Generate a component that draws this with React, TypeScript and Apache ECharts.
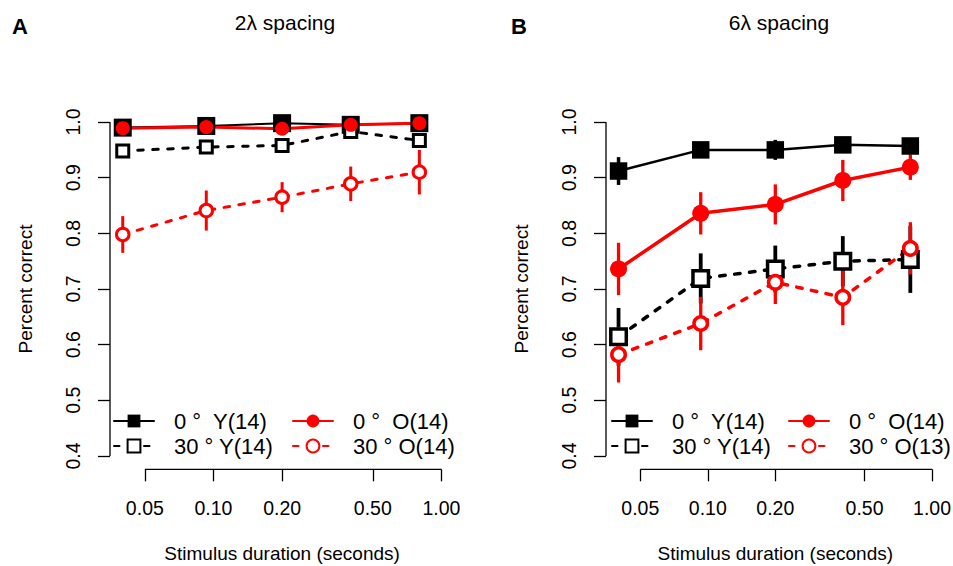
import React, { useEffect, useRef } from 'react';
import * as echarts from 'echarts';

// ---- data ----
const durations = [0.04, 0.093, 0.2, 0.4, 0.8];
const xTickValues = [0.05, 0.1, 0.2, 0.5, 1.0];
const yTickValues = [0.4, 0.5, 0.6, 0.7, 0.8, 0.9, 1.0];

const labelsA = ['0 °  Y(14)', '0 °  O(14)', '30 ° Y(14)', '30 ° O(14)'];
const labelsB = ['0 °  Y(14)', '0 °  O(14)', '30 ° Y(14)', '30 ° O(13)'];

// Panel A: 2λ spacing
const aY0 = [0.990, 0.993, 0.998, 0.995, 0.998];
const aY0Err = [0.005, 0.004, 0.002, 0.003, 0.002];
const aO0 = [0.989, 0.991, 0.988, 0.995, 0.998];
const aO0Err = [0.005, 0.005, 0.006, 0.004, 0.002];
const aY30 = [0.948, 0.955, 0.958, 0.983, 0.967];
const aY30Err = [0.006, 0.007, 0.007, 0.006, 0.008];
const aO30 = [0.798, 0.841, 0.865, 0.889, 0.910];
const aO30Err = [0.033, 0.036, 0.027, 0.031, 0.040];

// Panel B: 6λ spacing
const bY0 = [0.912, 0.950, 0.950, 0.959, 0.957];
const bY0Err = [0.025, 0.012, 0.018, 0.010, 0.008];
const bO0 = [0.736, 0.836, 0.852, 0.895, 0.919];
const bO0Err = [0.047, 0.038, 0.036, 0.037, 0.023];
const bY30 = [0.614, 0.719, 0.736, 0.750, 0.753];
const bY30Err = [0.052, 0.045, 0.042, 0.045, 0.060];
const bO30 = [0.582, 0.638, 0.712, 0.685, 0.773];
const bO30Err = [0.050, 0.048, 0.039, 0.050, 0.047];

const FONT = '"Liberation Sans", Arial, Helvetica, sans-serif';
const BLACK = '#000000';
const RED = '#ff0000';

const lg = (v: number) => Math.log10(v);
// R-style 4% axis extension around xlim = (0.04, 1) and ylim = (0.4, 1)
const xLo = lg(0.04), xHi = lg(1);
const xMin = xLo - 0.04 * (xHi - xLo);
const xMax = xHi + 0.04 * (xHi - xLo);
const yMin = 0.4 - 0.04 * 0.6;
const yMax = 1.0 + 0.04 * 0.6;

type Sty = {
  symbol: string; size: number; filled: boolean; color: string;
  lineWidth: number; dashed: boolean; border: number; barWidth: number;
};

function groupSeries(name: string, vals: number[], errs: number[], idx: number, s: Sty) {
  const line: any = {
    type: 'line', name, xAxisIndex: idx, yAxisIndex: idx,
    data: durations.map((d, i) => [lg(d), vals[i]]),
    symbol: s.symbol, symbolSize: s.size,
    showSymbol: true, clip: false,
    itemStyle: s.filled
      ? { color: s.color, borderWidth: 0 }
      : { color: '#ffffff', borderColor: s.color, borderWidth: s.border },
    lineStyle: {
      color: s.color, width: s.lineWidth,
      type: s.dashed ? [5.5, 9.5] : 'solid', cap: 'round',
    },
    emphasis: { disabled: true },
  };
  const bars: any = {
    type: 'custom', name: name + '-err', xAxisIndex: idx, yAxisIndex: idx,
    data: durations.map((d, i) => [lg(d), vals[i] - errs[i], vals[i] + errs[i]]),
    encode: { x: 0, y: [1, 2] },
    renderItem: (params: any, api: any) => {
      const x = api.value(0);
      const p1 = api.coord([x, api.value(1)]);
      const p2 = api.coord([x, api.value(2)]);
      return {
        type: 'line',
        shape: { x1: p1[0], y1: p1[1], x2: p2[0], y2: p2[1] },
        style: { stroke: s.color, lineWidth: s.barWidth },
      };
    },
    clip: false,
    silent: true,
  };
  return [line, bars];
}

// R-style axis lines spanning only first..last tick
function axisFrame(idx: number) {
  const segs = [
    [lg(xTickValues[0]), yMin, lg(xTickValues[xTickValues.length - 1]), yMin],
    [xMin, yTickValues[0], xMin, yTickValues[yTickValues.length - 1]],
  ];
  return {
    type: 'custom', name: 'frame' + idx, xAxisIndex: idx, yAxisIndex: idx,
    data: segs,
    encode: { x: [0, 2], y: [1, 3] },
    z: 20,
    renderItem: (params: any, api: any) => {
      const p1 = api.coord([api.value(0), api.value(1)]);
      const p2 = api.coord([api.value(2), api.value(3)]);
      return {
        type: 'line',
        shape: { x1: p1[0], y1: p1[1], x2: p2[0], y2: p2[1] },
        style: { stroke: BLACK, lineWidth: 1.3 },
      };
    },
    clip: false,
    silent: true,
  };
}

function makeX(idx: number) {
  return {
    type: 'value', gridIndex: idx, min: xMin, max: xMax, z: 20,
    axisLine: { show: false, onZero: false },
    splitLine: { show: false },
    axisTick: { show: true, length: 12, customValues: xTickValues.map(lg), lineStyle: { color: BLACK, width: 1.3 } },
    axisLabel: {
      customValues: xTickValues.map(lg), margin: 29,
      formatter: (v: number) => Math.pow(10, v).toFixed(2),
      fontSize: 19.5, fontFamily: FONT, color: BLACK,
    },
    name: 'Stimulus duration (seconds)', nameLocation: 'middle', nameGap: 75,
    nameTextStyle: { fontSize: 19, fontFamily: FONT, color: BLACK },
  };
}

function makeY(idx: number) {
  return {
    type: 'value', gridIndex: idx, min: yMin, max: yMax, z: 20,
    axisLine: { show: false, onZero: false },
    splitLine: { show: false },
    axisTick: { show: true, length: 12, customValues: yTickValues, lineStyle: { color: BLACK, width: 1.3 } },
    axisLabel: {
      customValues: yTickValues, margin: 27, rotate: 90,
      formatter: (v: number) => v.toFixed(1),
      fontSize: 19.5, fontFamily: FONT, color: BLACK,
    },
    name: 'Percent correct', nameLocation: 'middle', nameGap: 75, nameRotate: 90,
    nameTextStyle: { fontSize: 19, fontFamily: FONT, color: BLACK },
  };
}

// one legend component per entry, so the two columns line up like R's legend
function legendItem(name: string, left: number, top: number) {
  return {
    data: [name],
    left, top, orient: 'horizontal', padding: 0, z: 1,
    backgroundColor: 'transparent', borderWidth: 0,
    itemWidth: 40, itemHeight: 16, itemGap: 0,
    selectedMode: false,
    textStyle: {
      fontSize: 22, fontFamily: FONT, color: BLACK,
      padding: [0, 0, 0, 15],
    },
  };
}

export default function App() {
  const ref = useRef<HTMLDivElement>(null);
  useEffect(() => {
    if (!ref.current) return;
    const chart = echarts.init(ref.current, undefined, { renderer: 'svg' });

    const styA = {
      y0: { symbol: 'rect', size: 18, filled: true, color: BLACK, lineWidth: 2, dashed: false, border: 0, barWidth: 3 },
      o0: { symbol: 'circle', size: 14, filled: true, color: RED, lineWidth: 3, dashed: false, border: 0, barWidth: 3 },
      y30: { symbol: 'rect', size: 12, filled: false, color: BLACK, lineWidth: 3, dashed: true, border: 3, barWidth: 3 },
      o30: { symbol: 'circle', size: 12.5, filled: false, color: RED, lineWidth: 3, dashed: true, border: 3, barWidth: 3 },
    };
    const styB = {
      y0: { symbol: 'rect', size: 17.5, filled: true, color: BLACK, lineWidth: 2.5, dashed: false, border: 0, barWidth: 3.5 },
      o0: { symbol: 'circle', size: 17, filled: true, color: RED, lineWidth: 3.5, dashed: false, border: 0, barWidth: 3.3 },
      y30: { symbol: 'rect', size: 15.5, filled: false, color: BLACK, lineWidth: 3.5, dashed: true, border: 3.5, barWidth: 3.8 },
      o30: { symbol: 'circle', size: 13.5, filled: false, color: RED, lineWidth: 3.5, dashed: true, border: 3.5, barWidth: 3.3 },
    };

    const series = [
      axisFrame(0),
      axisFrame(1),
      ...groupSeries(labelsA[0], aY0, aY0Err, 0, styA.y0),
      ...groupSeries(labelsA[2], aY30, aY30Err, 0, styA.y30),
      ...groupSeries(labelsA[1], aO0, aO0Err, 0, styA.o0),
      ...groupSeries(labelsA[3], aO30, aO30Err, 0, styA.o30),
      ...groupSeries(labelsB[0], bY0, bY0Err, 1, styB.y0),
      ...groupSeries(labelsB[2], bY30, bY30Err, 1, styB.y30),
      ...groupSeries(labelsB[1], bO0, bO0Err, 1, styB.o0),
      ...groupSeries(labelsB[3], bO30, bO30Err, 1, styB.o30),
    ];

    chart.setOption({
      animation: false,
      grid: [
        { left: 110, top: 108.7, width: 344.2, height: 360.6, containLabel: false, outerBoundsMode: 'none' },
        { left: 606, top: 108.7, width: 338.6, height: 360.6, containLabel: false, outerBoundsMode: 'none' },
      ],
      xAxis: [makeX(0), makeX(1)],
      yAxis: [makeY(0), makeY(1)],
      legend: [
        legendItem(labelsA[0], 113, 410),
        legendItem(labelsA[1], 292, 410),
        legendItem(labelsA[2], 113, 435),
        legendItem(labelsA[3], 292, 435),
        legendItem(labelsB[0], 611, 410),
        legendItem(labelsB[1], 788, 410),
        legendItem(labelsB[2], 611, 435),
        legendItem(labelsB[3], 788, 435),
      ],
      graphic: [
        { type: 'text', x: 12, y: 26, style: { text: 'A', font: `bold 22px ${FONT}`, fill: BLACK, textVerticalAlign: 'middle' } },
        { type: 'text', x: 511, y: 26, style: { text: 'B', font: `bold 22px ${FONT}`, fill: BLACK, textVerticalAlign: 'middle' } },
        { type: 'text', x: 285, y: 22, style: { text: '2λ spacing', font: `21px ${FONT}`, fill: BLACK, textAlign: 'center', textVerticalAlign: 'middle' } },
        { type: 'text', x: 779, y: 22, style: { text: '6λ spacing', font: `21px ${FONT}`, fill: BLACK, textAlign: 'center', textVerticalAlign: 'middle' } },
      ],
      series,
    });
    return () => chart.dispose();
  }, []);
  return <div ref={ref} style={{ width: 953, height: 566, position: 'fixed', left: 0, top: 0, background: '#ffffff' }} />;
}
